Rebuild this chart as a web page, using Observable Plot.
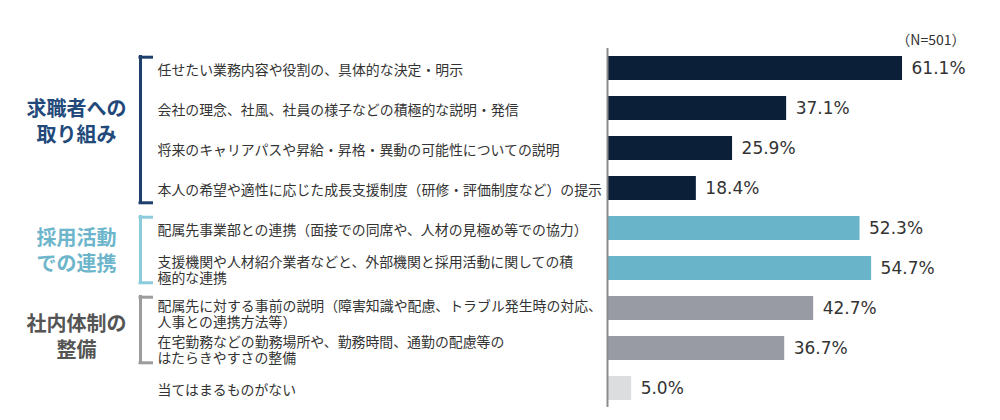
<!DOCTYPE html>
<html>
<head>
<meta charset="utf-8">
<script src="https://cdn.jsdelivr.net/npm/d3@7"></script>
<script src="https://cdn.jsdelivr.net/npm/@observablehq/plot@0.6"></script>
<style>
  html, body { margin: 0; padding: 0; background: #fff; }
  #chart { width: 1000px; height: 420px; }
</style>
</head>
<body>
<div id="chart"></div>
<script>
// ---- data ----
const categories = [
  "任せたい業務内容や役割の、具体的な決定・明示",
  "会社の理念、社風、社員の様子などの積極的な説明・発信",
  "将来のキャリアパスや昇給・昇格・異動の可能性についての説明",
  "本人の希望や適性に応じた成長支援制度（研修・評価制度など）の提示",
  "配属先事業部との連携（面接での同席や、人材の見極め等での協力）",
  "支援機関や人材紹介業者などと、外部機関と採用活動に関しての積\n極的な連携",
  "配属先に対する事前の説明（障害知識や配慮、トラブル発生時の対応、\n人事との連携方法等）",
  "在宅勤務などの勤務場所や、勤務時間、通勤の配慮等の\nはたらきやすさの整備",
  "当てはまるものがない"
];
const values = [61.1, 37.1, 25.9, 18.4, 52.3, 54.7, 42.7, 36.7, 5.0];
const itemGroup = [0, 0, 0, 0, 1, 1, 2, 2, -1];
const groupNames = ["求職者への\n取り組み", "採用活動\nでの連携", "社内体制の\n整備"];
const groupFirst = [0, 4, 6];
const groupLast = [3, 5, 7];
const noteText = "（N=501）";

// ---- styles ----
const barColors = ["#0c1f38", "#69b4c9", "#989ba3"];
const otherColor = "#dcdddf";
const bracketColors = ["#1e3f6c", "#8ccbdb", "#9c9c9c"];
const groupTextColors = ["#22497a", "#6cb5ca", "#555555"];
const groupAnchor = [1, 4, 6];
const groupDy = [12.5, 21, 27.5];

const data = categories.map((c, i) => ({
  label: c, value: values[i], group: itemGroup[i],
  text: values[i].toFixed(1) + "%",
  fill: itemGroup[i] >= 0 ? barColors[itemGroup[i]] : otherColor
}));
const groups = groupNames.map((n, k) => ({
  name: n, first: categories[groupFirst[k]], last: categories[groupLast[k]],
  color: bracketColors[k], textColor: groupTextColors[k]
}));

const jp = "'Noto Sans CJK JP', 'Noto Sans', sans-serif";

const plot = Plot.plot({
  width: 1000,
  height: 420,
  marginLeft: 607,
  marginRight: 55,
  marginTop: 47.5,
  marginBottom: 12.5,
  style: { fontFamily: jp, background: "#fff", overflow: "visible" },
  x: { domain: [0, 70], axis: null },
  y: { domain: categories, axis: null, paddingInner: 0.41, paddingOuter: 0.205 },
  color: { type: "identity" },
  marks: [
    Plot.barX(data, { x: "value", y: "label", fill: "fill" }),
    // axis baseline
    Plot.ruleX([0], {
      x: d => d, y1: () => categories[0], y2: () => categories[categories.length - 1],
      stroke: "#8c8c8c", strokeWidth: 2, insetTop: -8, insetBottom: -7
    }),
    // value labels
    Plot.text(data, {
      x: "value", y: "label", text: "text", dx: 9, textAnchor: "start",
      fontSize: 17, fontFamily: "'DejaVu Sans', Verdana, sans-serif", fill: "#333"
    }),
    // category labels
    Plot.text(data.filter((d, i) => i !== 6), {
      y: "label", text: "label", frameAnchor: "left", dx: -450, dy: 1,
      textAnchor: "start", fontSize: 13.9, lineHeight: 1.2, fill: "#333"
    }),
    Plot.text(data.filter((d, i) => i === 6), {
      y: "label", text: "label", frameAnchor: "left", dx: -450, dy: 5,
      textAnchor: "start", fontSize: 13.9, lineHeight: 1.2, fill: "#333"
    }),
    // brackets: vertical
    Plot.ruleX(groups, {
      x: () => 0, y1: "first", y2: "last", dx: -467,
      stroke: "color", strokeWidth: 3, insetTop: -1, insetBottom: -4
    }),
    // brackets: top lips
    Plot.ruleY(groups, {
      y: "first", x1: () => 0, x2: () => 0, insetLeft: -468.5, insetRight: 454,
      dy: -11.3, stroke: "color", strokeWidth: 3
    }),
    // brackets: bottom lips
    Plot.ruleY(groups, {
      y: "last", x1: () => 0, x2: () => 0, insetLeft: -468.5, insetRight: 454,
      dy: 14.3, stroke: "color", strokeWidth: 3
    }),
    // group labels
    ...groups.map((g, k) => Plot.text([g], {
      y: () => categories[groupAnchor[k]], text: "name", frameAnchor: "left",
      dx: -531, dy: groupDy[k], textAnchor: "middle",
      fontSize: 20, fontWeight: "bold", lineHeight: 1.3, fill: "textColor"
    })),
    // note
    Plot.text([noteText], {
      text: d => d, frameAnchor: "top-right", dx: 20, dy: -13,
      textAnchor: "end", fontSize: 14, fill: "#333"
    })
  ]
});
document.getElementById("chart").appendChild(plot);
</script>
</body>
</html>
